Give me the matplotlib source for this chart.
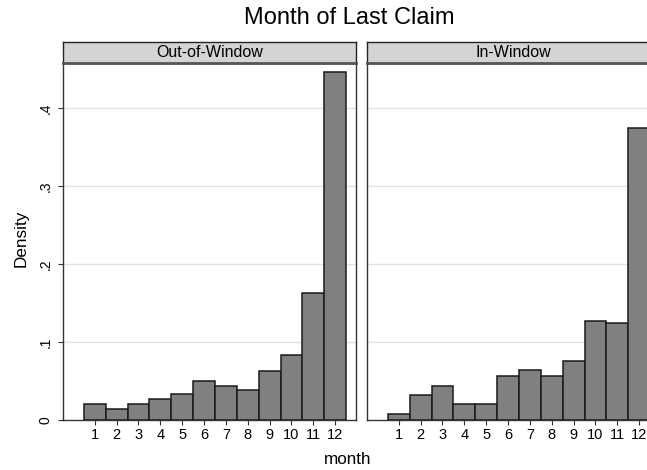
import matplotlib
matplotlib.use("Agg")
import matplotlib.pyplot as plt

plt.rcParams['font.family'] = ['Liberation Sans', 'DejaVu Sans']

months = list(range(1, 13))
month_labels = [str(m) for m in months]
panels = ["Out-of-Window", "In-Window"]
out_window = [0.020, 0.014, 0.020, 0.027, 0.033, 0.050, 0.044, 0.0385, 0.063, 0.083, 0.163, 0.446]
in_window = [0.008, 0.032, 0.044, 0.020, 0.020, 0.056, 0.064, 0.056, 0.076, 0.127, 0.124, 0.374]
yticks = [0, 0.1, 0.2, 0.3, 0.4]
ytick_labels = ["0", ".1", ".2", ".3", ".4"]
series = [out_window, in_window]

W, H = 647, 470
fig = plt.figure(figsize=(W / 100, H / 100), dpi=100)
fig.patch.set_facecolor('white')

panel_left = [63, 367]
panel_w = 293
ax_top, ax_bot = 63, 420
hdr_top = 42

for i, (name, vals) in enumerate(zip(panels, series)):
    x0 = panel_left[i]
    ax = fig.add_axes([x0 / W, (H - ax_bot) / H, panel_w / W, (ax_bot - ax_top) / H])
    ax.bar(months, vals, width=1.0, color='#808080', edgecolor='#1a1a1a', linewidth=1.1, zorder=3)
    ax.set_xlim(-0.45, 12.95)
    ax.set_ylim(0, 0.458)
    for yv in yticks[1:]:
        ax.axhline(yv, color='#e3e3e3', linewidth=1.0, zorder=1)
    ax.set_xticks(months)
    ax.set_xticklabels(month_labels, fontsize=10.5)
    ax.tick_params(axis='x', direction='out', length=3.5, width=0.8, color='#333333', pad=2)
    ax.set_yticks(yticks)
    if i == 0:
        ax.set_yticklabels(ytick_labels, fontsize=10, rotation=90, va='center')
        ax.tick_params(axis='y', direction='out', length=3.5, width=0.8, color='#333333', pad=4)
    else:
        ax.set_yticklabels([])
        ax.tick_params(axis='y', length=0)
    for s in ax.spines.values():
        s.set_color('#333333')
        s.set_linewidth(1.0)
    # header strip
    hax = fig.add_axes([x0 / W, (H - ax_top) / H, panel_w / W, (ax_top - hdr_top) / H])
    hax.set_facecolor('#d4d4d4')
    hax.set_xticks([])
    hax.set_yticks([])
    for s in hax.spines.values():
        s.set_color('#222222')
        s.set_linewidth(1.0)
    hax.spines['bottom'].set_linewidth(2.0)
    hax.spines['bottom'].set_color('#555555')
    hax.text(0.5, 0.5, name, ha='center', va='center', fontsize=11.5, transform=hax.transAxes)

fig.text(349 / W, 1 - 18 / H, "Month of Last Claim", ha='center', va='center', fontsize=17)
fig.text(348 / W, 1 - 459 / H, "month", ha='center', va='center', fontsize=12.3)
fig.text(21 / W, 1 - 238 / H, "Density", ha='center', va='center', fontsize=12.3, rotation=90)

fig.savefig("out.png", dpi=100, facecolor='white')
